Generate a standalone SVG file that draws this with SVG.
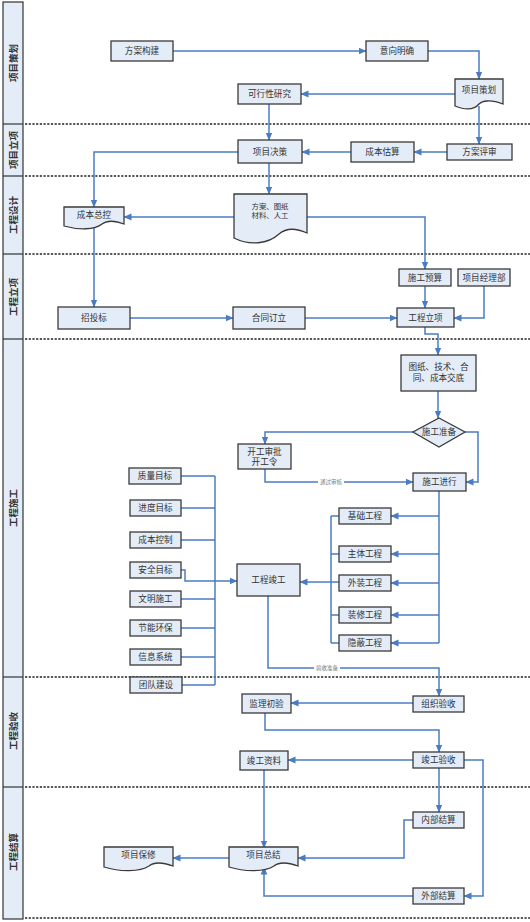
<svg xmlns="http://www.w3.org/2000/svg" width="530" height="922" viewBox="0 0 530 922">
<style>
.bx{fill:#E4ECF7;stroke:#3a3a3a;stroke-width:1.3}
.t{font-family:"Liberation Sans","Noto Sans CJK SC",sans-serif;font-size:8.6px;fill:#333;text-anchor:middle;dominant-baseline:central}
.ts{font-family:"Liberation Sans","Noto Sans CJK SC",sans-serif;font-size:7.4px;fill:#333;text-anchor:middle;dominant-baseline:central}
.tl{font-family:"Liberation Sans","Noto Sans CJK SC",sans-serif;font-size:5.5px;fill:#777;text-anchor:middle;dominant-baseline:central}
.lane{font-family:"Liberation Sans","Noto Sans CJK SC",sans-serif;font-size:9.5px;font-weight:bold;fill:#333;text-anchor:middle;dominant-baseline:central}
.dot{stroke:#222;stroke-width:1.4;stroke-dasharray:2.2 1.5;fill:none}
.c{fill:none;stroke:#4A7CC4;stroke-width:1.5}
.ca{fill:none;stroke:#4A7CC4;stroke-width:1.5;marker-end:url(#ah)}
</style>
<defs>
<marker id="ah" markerUnits="userSpaceOnUse" markerWidth="8" markerHeight="8" viewBox="0 0 8 8" refX="7.5" refY="4" orient="auto">
<path d="M0,0.6 L8,4 L0,7.4 Z" fill="#4A7CC4"/>
</marker>
</defs>
<rect width="530" height="922" fill="#fff"/>

<g id="lanes">
<rect x="3" y="2" width="20" height="917" fill="#E4ECF7" stroke="#333" stroke-width="1.2"/>
<g stroke="#333" stroke-width="1.2">
<line x1="3" y1="124" x2="23" y2="124"/>
<line x1="3" y1="176" x2="23" y2="176"/>
<line x1="3" y1="254" x2="23" y2="254"/>
<line x1="3" y1="339" x2="23" y2="339"/>
<line x1="3" y1="677" x2="23" y2="677"/>
<line x1="3" y1="787" x2="23" y2="787"/>
</g>
<line class="dot" x1="25" y1="124" x2="530" y2="124"/>
<line class="dot" x1="25" y1="176" x2="530" y2="176"/>
<line class="dot" x1="25" y1="254" x2="530" y2="254"/>
<line class="dot" x1="25" y1="339" x2="530" y2="339"/>
<line class="dot" x1="25" y1="677" x2="530" y2="677"/>
<line class="dot" x1="25" y1="787" x2="530" y2="787"/>
<line class="dot" x1="25" y1="918" x2="530" y2="918"/>
<text class="lane" transform="translate(13,63) rotate(-90)">项目策划</text>
<text class="lane" transform="translate(13,150) rotate(-90)">项目立项</text>
<text class="lane" transform="translate(13,215) rotate(-90)">工程设计</text>
<text class="lane" transform="translate(13,297) rotate(-90)">工程立项</text>
<text class="lane" transform="translate(13,508) rotate(-90)">工程施工</text>
<text class="lane" transform="translate(13,731) rotate(-90)">工程验收</text>
<text class="lane" transform="translate(13,852) rotate(-90)">工程结算</text>
</g>

<g id="connectors">
<path class="ca" d="M173,51 H366"/>
<path class="ca" d="M428,51 H479 V79"/>
<path class="ca" d="M455,94 H301"/>
<path class="ca" d="M479,106 V144"/>
<path class="ca" d="M447,152 H414"/>
<path class="ca" d="M351,152 H302"/>
<path class="ca" d="M269,104 V140"/>
<path class="ca" d="M238,152 H94 V207"/>
<path class="ca" d="M269,163 V194"/>
<path class="ca" d="M234,217 H124"/>
<path class="ca" d="M307,217 H425 V269"/>
<path class="ca" d="M94,226 V307"/>
<path class="ca" d="M130,318 H233"/>
<path class="ca" d="M305,318 H397"/>
<path class="ca" d="M425,286 V308"/>
<path class="ca" d="M484,286 V318 H454"/>
<path class="ca" d="M425,327 V334 H438 V355"/>
<path class="ca" d="M438,391 V418"/>
<path class="ca" d="M413,432 H265 V444"/>
<path class="ca" d="M465,432 H478 V482 H466"/>
<path class="ca" d="M265,469 V482 H413"/>
<path class="c" d="M439,491 V643"/>
<path class="ca" d="M439,516 H391"/>
<path class="ca" d="M439,554 H391"/>
<path class="ca" d="M439,583 H391"/>
<path class="ca" d="M439,615 H391"/>
<path class="ca" d="M439,643 H391"/>
<path class="c" d="M331,516 V643"/>
<path class="c" d="M339,516 H331 M339,554 H331 M339,615 H331 M339,643 H331"/>
<path class="ca" d="M339,582 H300"/>
<path class="c" d="M215,476 V685"/>
<path class="c" d="M181,476 H215 M181,508 H215 M181,540 H215 M181,599 H215 M181,628 H215 M181,657 H215 M182,685 H215"/>
<path class="ca" d="M181,570 H185 V581 H237"/>
<path class="ca" d="M268,596 V668 H439 V696"/>
<path class="ca" d="M413,703 H291"/>
<path class="ca" d="M265,713 V730 H439 V752"/>
<path class="ca" d="M413,760 H288"/>
<path class="ca" d="M264,770 V848"/>
<path class="ca" d="M439,768 V812"/>
<path class="ca" d="M413,820 H404 V858 H298"/>
<path class="ca" d="M229,858 H173"/>
<path class="ca" d="M464,760 H483 V896 H464"/>
<path class="ca" d="M413,896 H264 V867"/>
<rect x="318" y="478" width="26" height="8" fill="#fff"/>
<text class="tl" x="331" y="482">通过审核</text>
<rect x="314" y="664" width="26" height="8" fill="#fff"/>
<text class="tl" x="327" y="668">验收准备</text>
</g>

<g id="n1"><rect class="bx" x="111" y="41" width="62" height="20"/><text class="t" x="142" y="51">方案构建</text></g>
<g id="n2"><rect class="bx" x="366" y="41" width="62" height="20"/><text class="t" x="397" y="51">意向明确</text></g>
<g id="n3"><path class="bx" d="M455,79 H503 V104 C490,99 482,101 479,104 C474,110 465,110 455,106 Z"/><text class="t" x="479" y="90">项目策划</text></g>
<g id="n4"><rect class="bx" x="238" y="84" width="63" height="20"/><text class="t" x="269.5" y="94">可行性研究</text></g>
<g id="n5"><rect class="bx" x="447" y="144" width="65" height="16"/><text class="t" x="479.5" y="152">方案评审</text></g>
<g id="n6"><rect class="bx" x="351" y="142" width="63" height="20"/><text class="t" x="382.5" y="152">成本估算</text></g>
<g id="n7"><rect class="bx" x="238" y="140" width="64" height="23"/><text class="t" x="270" y="151.5">项目决策</text></g>
<g id="n8"><path class="bx" d="M234,194 H307 V233 C296,228 286,228 279,234 C268,244 250,246 234,238 Z"/><text class="ts" x="270" y="206">方案、图纸</text><text class="ts" x="270" y="215">材料、人工</text></g>
<g id="n9"><path class="bx" d="M64,207 H124 V224 C114,220 106,221 102,224 C95,230 78,230 64,226 Z"/><text class="t" x="94" y="215">成本总控</text></g>
<g id="n10"><rect class="bx" x="58" y="307" width="72" height="22"/><text class="t" x="94" y="318">招投标</text></g>
<g id="n11"><rect class="bx" x="233" y="307" width="72" height="22"/><text class="t" x="269" y="318">合同订立</text></g>
<g id="n12"><rect class="bx" x="399" y="269" width="52" height="17"/><text class="t" x="425" y="277.5">施工预算</text></g>
<g id="n13"><rect class="bx" x="458" y="269" width="52" height="17"/><text class="t" x="484" y="277.5">项目经理部</text></g>
<g id="n14"><rect class="bx" x="397" y="308" width="57" height="19"/><text class="t" x="425.5" y="317.5">工程立项</text></g>
<g id="n15"><rect class="bx" x="401" y="355" width="75" height="36"/><text class="t" x="438.5" y="367">图纸、技术、合</text><text class="t" x="438.5" y="378">同、成本交底</text></g>
<g id="n16"><path class="bx" d="M439,418 L465,432 L439,447 L413,432 Z"/><text class="t" x="439" y="432">施工准备</text></g>
<g id="n17"><rect class="bx" x="238" y="444" width="53" height="25"/><text class="t" x="264.5" y="452">开工审批</text><text class="t" x="264.5" y="462">开工令</text></g>
<g id="n18"><rect class="bx" x="413" y="473" width="53" height="18"/><text class="t" x="439.5" y="482">施工进行</text></g>
<g id="n19"><rect class="bx" x="339" y="508" width="52" height="16"/><text class="t" x="365" y="516">基础工程</text></g>
<g id="n20"><rect class="bx" x="339" y="546" width="52" height="16"/><text class="t" x="365" y="554">主体工程</text></g>
<g id="n21"><rect class="bx" x="339" y="575" width="52" height="16"/><text class="t" x="365" y="583">外装工程</text></g>
<g id="n22"><rect class="bx" x="339" y="607" width="52" height="16"/><text class="t" x="365" y="615">装修工程</text></g>
<g id="n23"><rect class="bx" x="339" y="635" width="52" height="16"/><text class="t" x="365" y="643">隐蔽工程</text></g>
<g id="n24"><rect class="bx" x="237" y="564" width="63" height="32"/><text class="t" x="268.5" y="580">工程竣工</text></g>
<g id="n25"><rect class="bx" x="129" y="468" width="52" height="16"/><text class="t" x="155" y="476">质量目标</text></g>
<g id="n26"><rect class="bx" x="130" y="500" width="51" height="16"/><text class="t" x="155.5" y="508">进度目标</text></g>
<g id="n27"><rect class="bx" x="130" y="532" width="51" height="16"/><text class="t" x="155.5" y="540">成本控制</text></g>
<g id="n28"><rect class="bx" x="130" y="562" width="51" height="16"/><text class="t" x="155.5" y="570">安全目标</text></g>
<g id="n29"><rect class="bx" x="130" y="591" width="51" height="16"/><text class="t" x="155.5" y="599">文明施工</text></g>
<g id="n30"><rect class="bx" x="130" y="620" width="51" height="16"/><text class="t" x="155.5" y="628">节能环保</text></g>
<g id="n31"><rect class="bx" x="130" y="649" width="51" height="16"/><text class="t" x="155.5" y="657">信息系统</text></g>
<g id="n32"><rect class="bx" x="130" y="677" width="52" height="16"/><text class="t" x="156" y="685">团队建设</text></g>
<g id="n33"><rect class="bx" x="413" y="696" width="51" height="16"/><text class="t" x="438.5" y="704">组织验收</text></g>
<g id="n34"><rect class="bx" x="242" y="694" width="49" height="19"/><text class="t" x="266.5" y="703.5">监理初验</text></g>
<g id="n35"><rect class="bx" x="413" y="752" width="51" height="16"/><text class="t" x="438.5" y="760">竣工验收</text></g>
<g id="n36"><rect class="bx" x="240" y="751" width="48" height="19"/><text class="t" x="264" y="760.5">竣工资料</text></g>
<g id="n37"><rect class="bx" x="413" y="812" width="51" height="16"/><text class="t" x="438.5" y="820">内部结算</text></g>
<g id="n38"><rect class="bx" x="413" y="888" width="51" height="16"/><text class="t" x="438.5" y="896">外部结算</text></g>
<g id="n39"><path class="bx" d="M229,847 H298 V866 C287,862 279,862 274,866 C265,872 245,872 229,867 Z"/><text class="t" x="263.5" y="855">项目总结</text></g>
<g id="n40"><path class="bx" d="M104,847 H173 V866 C162,862 154,862 149,866 C140,872 120,872 104,867 Z"/><text class="t" x="138.5" y="855">项目保修</text></g>
</svg>
